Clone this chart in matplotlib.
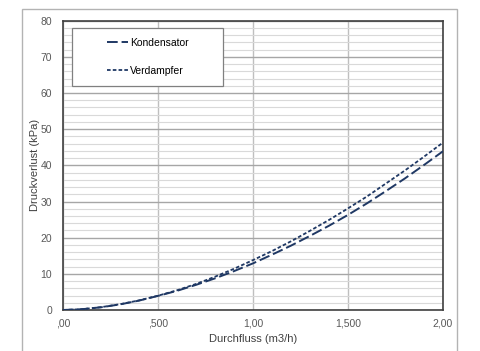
import matplotlib

matplotlib.use("Agg")

import matplotlib.pyplot as plt
from matplotlib.patches import Rectangle

plt.rcParams["font.family"] = ["Liberation Sans", "DejaVu Sans"]

durchfluss = [0.0, 0.1, 0.2, 0.3, 0.4, 0.5, 0.6, 0.7, 0.8, 0.9, 1.0,
              1.1, 1.2, 1.3, 1.4, 1.5, 1.6, 1.7, 1.8, 1.9, 2.0]
kondensator = [0.0, 0.22, 0.75, 1.55, 2.6, 3.9, 5.3, 6.95, 8.75, 10.75, 12.9,
               15.3, 17.8, 20.5, 23.3, 26.3, 29.5, 32.9, 36.4, 40.1, 43.9]
verdampfer = [0.0, 0.23, 0.78, 1.6, 2.65, 3.95, 5.45, 7.2, 9.2, 11.4, 13.8,
              16.3, 19.0, 21.9, 24.9, 28.1, 31.4, 35.0, 38.6, 42.4, 46.3]
x_ticks = [0.0, 0.5, 1.0, 1.5, 2.0]
x_labels = [",00", ",500", "1,00", "1,500", "2,00"]
y_ticks = [0, 10, 20, 30, 40, 50, 60, 70, 80]

W, H = 480, 351
fig = plt.figure(figsize=(W / 100, H / 100), dpi=100)

# outer chart frame (bottom edge lies outside the image)
fig.patches.append(Rectangle((22 / W, -0.1), 435 / W, 1.1 - 9 / H,
                             transform=fig.transFigure, fill=False,
                             ec="#b3b3b3", lw=1.0))

ax = fig.add_axes([63 / W, 1 - 310 / H, 380 / W, 289.3 / H])

navy = "#1f3864"
ax.plot(durchfluss, kondensator, color=navy, lw=1.4, dashes=(5.5, 2.0),
        label="Kondensator", zorder=3)
ax.plot(durchfluss, verdampfer, color=navy, lw=1.3, dashes=(2.0, 1.2),
        label="Verdampfer", zorder=3)

ax.set_xlim(0, 2.0)
ax.set_ylim(0, 80)
ax.set_xticks(x_ticks)
ax.set_xticklabels(x_labels)
ax.set_yticks(y_ticks)
ax.set_yticks(range(0, 81, 2), minor=True)
ax.tick_params(axis="both", which="both", length=0, labelsize=7.5,
               labelcolor="#595959")
ax.tick_params(axis="x", pad=6)
ax.tick_params(axis="y", pad=8)

ax.grid(True, axis="y", which="minor", color="#d9d9d9", lw=0.8, zorder=0)
ax.grid(True, axis="y", which="major", color="#a6a6a6", lw=1.0, zorder=1)
ax.grid(True, axis="x", which="major", color="#bfbfbf", lw=1.0, zorder=1)
ax.set_axisbelow(True)
for s in ax.spines.values():
    s.set_color("#404040")
    s.set_linewidth(1.2)

ax.set_xlabel("Durchfluss (m3/h)", fontsize=8, color="#404040")
ax.set_ylabel("Druckverlust (kPa)", fontsize=8, color="#404040")
ax.xaxis.set_label_coords(0.5, -(339 - 310) / 289.3, transform=ax.transAxes)
ax.xaxis.label.set_va("center")
ax.yaxis.set_label_coords(-(63 - 35) / 380, 0.5, transform=ax.transAxes)
ax.yaxis.label.set_va("center")

# legend box
bx0, by0, bx1, by1 = 72, 28, 223, 86
ax.add_patch(Rectangle((bx0 / W, 1 - by1 / H), (bx1 - bx0) / W, (by1 - by0) / H,
                       transform=fig.transFigure, fc="white", ec="#808080",
                       lw=0.9, zorder=4))
leg = ax.legend(loc="center", bbox_to_anchor=((bx0 + bx1) / 2 / W, 1 - (by0 + by1) / 2 / H),
                bbox_transform=fig.transFigure, frameon=False, fontsize=7.5,
                handlelength=2.0, handletextpad=0.2, labelspacing=1.75)
leg.set_zorder(5)

fig.savefig("out.png", dpi=100)
plt.close(fig)
